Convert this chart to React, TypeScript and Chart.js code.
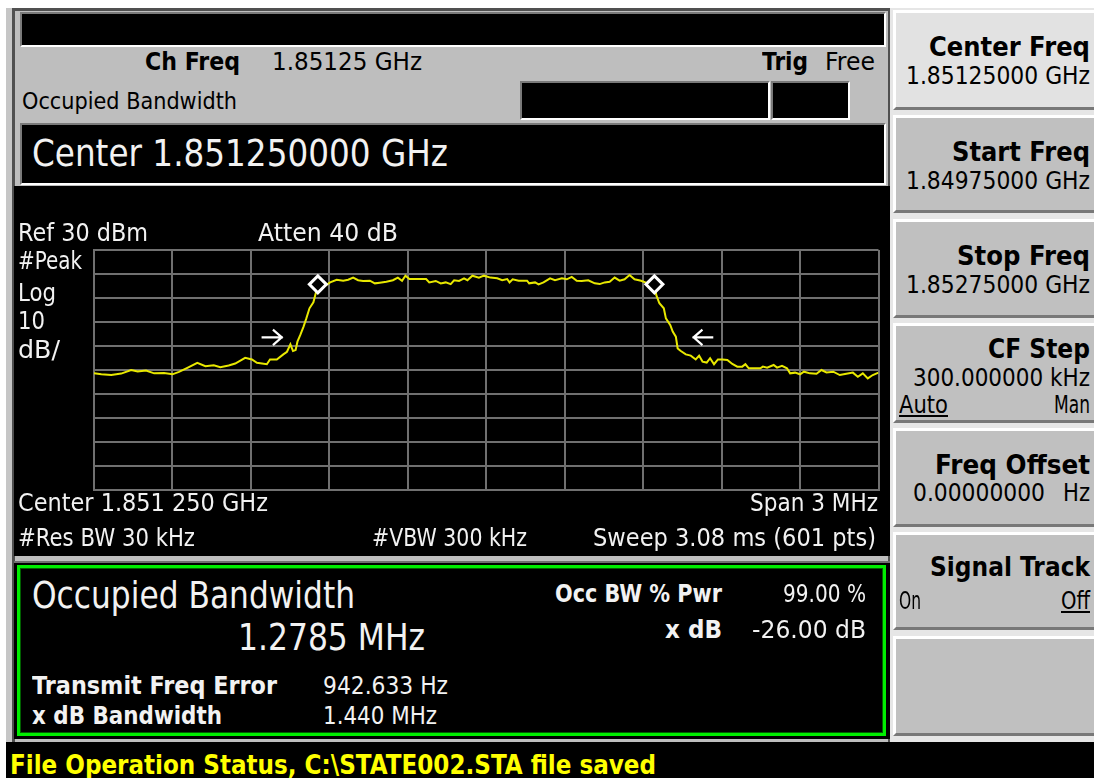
import React, { useEffect, useLayoutEffect, useRef } from 'react';
import { Chart, registerables } from 'chart.js';

Chart.register(...registerables);

// ---------------- data ----------------
const TRACE_FREQ_MHZ = [
  -1.5, -1.472, -1.434, -1.396, -1.358, -1.333, -1.301, -1.27, -1.232, -1.2,
  -1.175, -1.143, -1.105, -1.074, -1.042, -1.017, -0.985, -0.96, -0.922, -0.896,
  -0.877, -0.839, -0.827, -0.801, -0.776, -0.762, -0.749, -0.739, -0.729, -0.722,
  -0.711, -0.699, -0.688, -0.676, -0.661, -0.652, -0.644, -0.63, -0.616, -0.597,
  -0.572, -0.547, -0.528, -0.509, -0.49, -0.471, -0.445, -0.426, -0.407, -0.382,
  -0.357, -0.338, -0.322, -0.309, -0.294, -0.268, -0.23, -0.218, -0.193, -0.174,
  -0.155, -0.136, -0.123, -0.104, -0.085, -0.072, -0.053, -0.028, -0.009, 0.016,
  0.042, 0.061, 0.08, 0.089, 0.101, 0.124, 0.156, 0.164, 0.187, 0.2,
  0.219, 0.244, 0.263, 0.289, 0.308, 0.327, 0.346, 0.365, 0.39, 0.415,
  0.434, 0.453, 0.472, 0.491, 0.51, 0.529, 0.548, 0.567, 0.592, 0.618,
  0.635, 0.643, 0.65, 0.662, 0.679, 0.687, 0.704, 0.713, 0.725, 0.732,
  0.744, 0.763, 0.782, 0.801, 0.814, 0.827, 0.843, 0.856, 0.871, 0.886,
  0.903, 0.922, 0.941, 0.96, 0.979, 0.991, 1.004, 1.029, 1.048, 1.058,
  1.074, 1.099, 1.112, 1.131, 1.15, 1.162, 1.181, 1.2, 1.215, 1.238,
  1.263, 1.282, 1.301, 1.327, 1.352, 1.377, 1.402, 1.421, 1.44, 1.459,
  1.478, 1.5,
];
const TRACE_LEVEL_DBM = [
  -21.4, -21.8, -22.1, -21.5, -20.0, -20.6, -20.2, -21.4, -21.3, -21.8,
  -20.8, -19.1, -17.0, -18.4, -18.0, -18.8, -18.1, -17.3, -14.9, -15.6,
  -17.0, -17.6, -15.6, -15.6, -13.5, -12.4, -9.3, -12.1, -11.7, -8.2,
  -5.4, -2.0, 1.5, 5.7, 8.2, 12.0, 15.7, 16.2, 15.1, 16.5,
  17.6, 17.2, 17.6, 18.5, 17.4, 17.1, 17.2, 16.1, 16.4, 16.8,
  17.4, 18.5, 17.2, 19.3, 17.9, 17.9, 17.9, 16.5, 17.1, 16.1,
  16.5, 15.8, 17.4, 17.1, 18.2, 17.4, 19.3, 18.5, 19.3, 18.5,
  18.2, 17.4, 17.9, 16.5, 17.8, 17.2, 17.2, 16.1, 16.5, 15.7,
  16.5, 18.2, 17.4, 18.2, 17.8, 18.8, 17.2, 17.1, 17.4, 16.1,
  15.8, 16.5, 16.8, 18.5, 17.2, 17.8, 19.6, 17.8, 17.2, 16.1,
  16.0, 15.7, 11.3, 7.8, 5.7, 1.5, -1.3, -4.0, -6.1, -11.0,
  -12.1, -13.5, -14.0, -15.6, -14.0, -16.5, -16.9, -15.1, -17.6, -15.6,
  -15.6, -15.8, -17.5, -18.6, -18.6, -17.6, -19.3, -19.3, -19.3, -18.6,
  -19.0, -17.9, -19.0, -18.3, -19.3, -21.4, -21.1, -21.8, -20.7, -21.4,
  -21.6, -20.0, -21.0, -20.7, -22.1, -21.6, -21.1, -22.8, -21.4, -23.5,
  -22.1, -21.1,
];
const MARKER_FREQ_MHZ = [-0.644, 0.643];
const MARKER_LEVEL_DBM = [15.7, 15.7];
const ARROW_TIP_FREQ_MHZ = [-0.782, 0.793];
const ARROW_TAIL_FREQ_MHZ = [-0.855, 0.864];
const ARROW_LEVEL_DBM = [-6.4, -6.4];
const X_GRID_MHZ = [-1.5, -1.2, -0.9, -0.6, -0.3, 0, 0.3, 0.6, 0.9, 1.2, 1.5];
const Y_GRID_DBM = [30, 20, 10, 0, -10, -20, -30, -40, -50, -60, -70];

// ---------------- text ----------------
const SOFTKEY_TITLES = ['Center Freq', 'Start Freq', 'Stop Freq', 'CF Step', 'Freq Offset', 'Signal Track'];
const SOFTKEY_VALUES = ['1.85125000 GHz', '1.84975000 GHz', '1.85275000 GHz', '300.000000 kHz', '0.00000000', ''];

const FONT = '"DejaVu Sans", sans-serif';

type TP = { t: string; x: number; r: number; y: number; s: number; b?: boolean; c?: string; u?: boolean };
function Txt({ t, x, r, y, s, b, c = '#000', u }: TP) {
  const ref = useRef<HTMLSpanElement>(null);
  useLayoutEffect(() => {
    const el = ref.current;
    if (!el) return;
    el.style.transform = 'none';
    const w = el.getBoundingClientRect().width;
    if (w > 0) el.style.transform = `scaleX(${(r - x) / w})`;
  }, [t, x, r, s]);
  return (
    <span
      ref={ref}
      style={{
        position: 'absolute', left: x, top: y - 0.48 * s, fontSize: s, lineHeight: 1,
        fontFamily: FONT, fontWeight: b ? 700 : 400, color: c, whiteSpace: 'pre',
        transformOrigin: '0 0', textDecoration: u ? 'underline' : 'none', display: 'inline-block',
      }}
    >
      {t}
    </span>
  );
}

function Box({ l, t, w, h, st }: { l: number; t: number; w: number; h: number; st?: React.CSSProperties }) {
  return <div style={{ position: 'absolute', left: l, top: t, width: w, height: h, boxSizing: 'border-box', ...st }} />;
}

const sunken: React.CSSProperties = {
  background: '#000', borderTop: '2px solid #7a7a7a', borderLeft: '2px solid #7a7a7a',
  borderBottom: '2px solid #fff', borderRight: '2px solid #fff',
};

const arrowPlugin = {
  id: 'xdbArrows',
  afterDatasetsDraw(chart: any) {
    const { ctx, scales } = chart;
    ctx.save();
    ctx.strokeStyle = '#ffffff';
    ctx.lineWidth = 2.2;
    ctx.lineCap = 'square';
    for (let i = 0; i < ARROW_TIP_FREQ_MHZ.length; i++) {
      const tx = scales.x.getPixelForValue(ARROW_TIP_FREQ_MHZ[i]);
      const bx = scales.x.getPixelForValue(ARROW_TAIL_FREQ_MHZ[i]);
      const y = scales.y.getPixelForValue(ARROW_LEVEL_DBM[i]);
      const d = Math.sign(tx - bx);
      ctx.beginPath();
      ctx.moveTo(bx, y);
      ctx.lineTo(tx, y);
      ctx.moveTo(tx - d * 8, y - 7);
      ctx.lineTo(tx, y);
      ctx.lineTo(tx - d * 8, y + 7);
      ctx.stroke();
    }
    ctx.restore();
  },
};

function Trace() {
  const ref = useRef<HTMLCanvasElement>(null);
  useEffect(() => {
    if (!ref.current) return;
    const gridCol = '#707070';
    const chart = new Chart(ref.current, {
      type: 'line',
      data: {
        datasets: [
          {
            data: MARKER_FREQ_MHZ.map((x, i) => ({ x, y: MARKER_LEVEL_DBM[i] })),
            showLine: false, pointStyle: 'rectRot', pointRadius: 8.5, borderWidth: 3,
            borderColor: '#ffffff', backgroundColor: '#000000', order: 0,
          } as any,
          {
            data: TRACE_FREQ_MHZ.map((x, i) => ({ x, y: TRACE_LEVEL_DBM[i] })),
            borderColor: '#e8e800', borderWidth: 2, pointRadius: 0, tension: 0, order: 1,
          } as any,
        ],
      },
      options: {
        animation: false, responsive: false, maintainAspectRatio: false, events: [],
        layout: { padding: { left: 80, right: 5, top: 64, bottom: 66 } },
        plugins: { legend: { display: false }, tooltip: { enabled: false } },
        scales: {
          x: {
            type: 'linear', min: -1.5, max: 1.5,
            afterBuildTicks: (s: any) => { s.ticks = X_GRID_MHZ.map((v) => ({ value: v })); },
            ticks: { display: false },
            grid: { color: gridCol, lineWidth: 2, drawTicks: false },
            border: { color: gridCol, width: 2 },
          },
          y: {
            type: 'linear', min: -70, max: 30,
            afterBuildTicks: (s: any) => { s.ticks = Y_GRID_DBM.map((v) => ({ value: v })); },
            ticks: { display: false },
            grid: { color: gridCol, lineWidth: 2, drawTicks: false },
            border: { color: gridCol, width: 2 },
          },
        },
      } as any,
      plugins: [arrowPlugin],
    });
    return () => chart.destroy();
  }, []);
  return (
    <canvas ref={ref} width={876} height={370}
      style={{ position: 'absolute', left: 14, top: 186, width: 876, height: 370, background: '#000' }} />
  );
}

const KEY_TOPS = [10, 115, 219, 323, 428, 532, 636];
const KEY_BOTTOMS = [110, 213, 318, 423, 527, 630, 736];

export default function App() {
  const W = '#f2f2f2';
  return (
    <div style={{ position: 'fixed', left: 0, top: 0, width: 1094, height: 778, background: '#fff', overflow: 'hidden', fontFamily: FONT }}>
      {/* left panel frame */}
      <Box l={6} t={8} w={884} h={734} st={{ background: '#c6c6c6' }} />
      <Box l={12} t={8} w={878} h={734} st={{ background: '#bebebe', borderLeft: '3px solid #505050', borderTop: '3px solid #505050', borderRight: '2px solid #505050' }} />
      <Box l={20} t={12} w={866} h={35} st={sunken} />
      <Box l={520} t={81} w={250} h={39} st={sunken} />
      <Box l={771} t={81} w={79} h={39} st={sunken} />
      <Box l={20} t={123} w={866} h={62} st={sunken} />

      {/* graph */}
      <Trace />

      {/* result panel */}
      <Box l={14} t={561} w={876} h={178} st={{ background: '#000', borderTop: '2px solid #707070' }} />
      <Box l={17} t={565} w={869} h={171} st={{ border: '3px solid #00ee00', outline: '1px solid #006000', outlineOffset: '-4px' }} />

      {/* status bar */}
      <Box l={6} t={742} w={1088} h={36} st={{ background: '#000' }} />

      {/* softkeys */}
      <Box l={890} t={8} w={204} h={734} st={{ background: '#e6e6e6' }} />
      {KEY_TOPS.map((t, i) => (
        <Box key={i} l={893} t={t} w={201} h={KEY_BOTTOMS[i] - t}
          st={{ background: i === 0 ? '#e2e2e2' : '#c0c0c0', borderTop: '3px solid #fff', borderLeft: '3px solid #fff', borderBottom: '3px solid #787878' }} />
      ))}

      {/* header text */}
      <Txt t="Ch Freq" x={145} r={240} y={62} s={24} b />
      <Txt t="1.85125 GHz" x={272} r={422} y={62} s={24} />
      <Txt t="Trig" x={762} r={808} y={62} s={24} b />
      <Txt t="Free" x={825} r={875} y={62} s={24} />
      <Txt t="Occupied Bandwidth" x={22} r={237} y={101} s={23} />
      <Txt t="Center 1.851250000 GHz" x={32} r={448} y={153} s={37} c={W} />

      {/* graph annotations */}
      <Txt t="Ref 30 dBm" x={18} r={148} y={233} s={24} c={W} />
      <Txt t="Atten 40 dB" x={258} r={398} y={233} s={24} c={W} />
      <Txt t="#Peak" x={18} r={82} y={261} s={24} c={W} />
      <Txt t="Log" x={18} r={56} y={293} s={24} c={W} />
      <Txt t="10" x={18} r={45} y={321} s={24} c={W} />
      <Txt t="dB/" x={18} r={60} y={350} s={24} c={W} />
      <Txt t="Center 1.851 250 GHz" x={18} r={268} y={503} s={24} c={W} />
      <Txt t="Span 3 MHz" x={750} r={878} y={503} s={24} c={W} />
      <Txt t="#Res BW 30 kHz" x={18} r={195} y={538} s={24} c={W} />
      <Txt t="#VBW 300 kHz" x={372} r={527} y={538} s={24} c={W} />
      <Txt t="Sweep 3.08 ms (601 pts)" x={593} r={876} y={538} s={24} c={W} />

      {/* result text */}
      <Txt t="Occupied Bandwidth" x={32} r={355} y={594} s={38} c={W} />
      <Txt t="1.2785 MHz" x={238} r={425} y={636} s={38} c={W} />
      <Txt t="Transmit Freq Error" x={32} r={277} y={686} s={24} b c={W} />
      <Txt t="942.633 Hz" x={323} r={448} y={686} s={24} c={W} />
      <Txt t="x dB Bandwidth" x={32} r={222} y={716} s={24} b c={W} />
      <Txt t="1.440 MHz" x={323} r={437} y={716} s={24} c={W} />
      <Txt t="Occ BW % Pwr" x={555} r={722} y={594} s={24} b c={W} />
      <Txt t="99.00 %" x={783} r={866} y={594} s={24} c={W} />
      <Txt t="x dB" x={665} r={722} y={630} s={24} b c={W} />
      <Txt t="-26.00 dB" x={752} r={866} y={630} s={24} c={W} />

      {/* status */}
      <Txt t={'File Operation Status, C:\\STATE002.STA file saved'} x={10} r={656} y={764} s={26} b c="#ffff00" />

      {/* softkey text */}
      <Txt t={SOFTKEY_TITLES[0]} x={929} r={1090} y={46} s={27} b />
      <Txt t={SOFTKEY_VALUES[0]} x={906} r={1090} y={75} s={25} />
      <Txt t={SOFTKEY_TITLES[1]} x={952} r={1090} y={151} s={27} b />
      <Txt t={SOFTKEY_VALUES[1]} x={906} r={1090} y={180} s={25} />
      <Txt t={SOFTKEY_TITLES[2]} x={957} r={1090} y={255} s={27} b />
      <Txt t={SOFTKEY_VALUES[2]} x={906} r={1090} y={284} s={25} />
      <Txt t={SOFTKEY_TITLES[3]} x={988} r={1090} y={348} s={27} b />
      <Txt t={SOFTKEY_VALUES[3]} x={913} r={1090} y={377} s={25} />
      <Txt t="Auto" x={899} r={948} y={404} s={25} u />
      <Txt t="Man" x={1054} r={1090} y={404} s={25} />
      <Txt t={SOFTKEY_TITLES[4]} x={935} r={1090} y={464} s={27} b />
      <Txt t={SOFTKEY_VALUES[4]} x={913} r={1045} y={492} s={25} />
      <Txt t="Hz" x={1063} r={1090} y={492} s={25} />
      <Txt t={SOFTKEY_TITLES[5]} x={930} r={1090} y={566} s={27} b />
      <Txt t="On" x={899} r={921} y={600} s={25} />
      <Txt t="Off" x={1061} r={1090} y={600} s={25} u />
    </div>
  );
}
